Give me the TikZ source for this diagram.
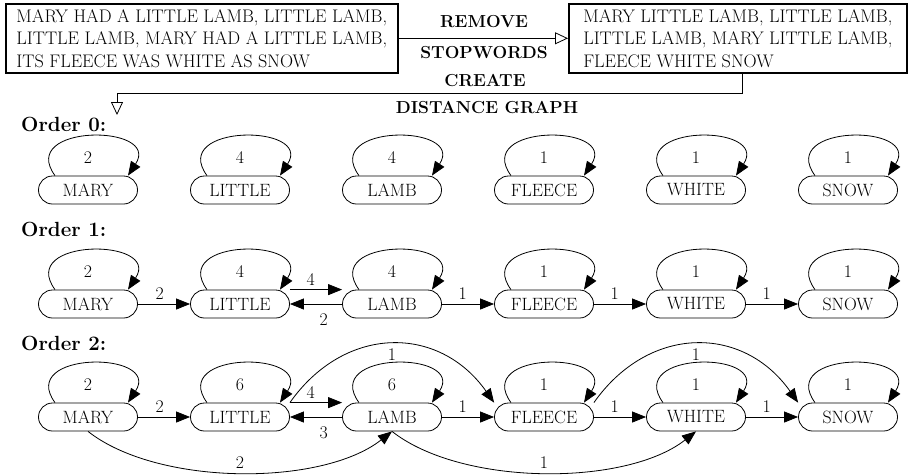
\documentclass[tikz,border=0pt]{standalone}
\usepackage{fontspec}
\usetikzlibrary{arrows.meta}
\newcommand\wordfont{\fontsize{17.8}{20}\selectfont}
\newcommand\boxfont{\fontsize{18.2}{22.5}\selectfont}
\newcommand\lblfont{\fontsize{17.4}{20}\selectfont\bfseries}
\newcommand\ordfont{\fontsize{20.5}{22}\selectfont\bfseries}
\begin{document}
\begin{tikzpicture}[x=1pt,y=1pt,
  word/.style={draw, line width=0.8pt, rounded corners=14pt, minimum width=99pt, minimum height=28pt, inner sep=0pt, font=\wordfont},
  txtbox/.style={draw, line width=1.6pt, align=left, inner sep=0pt, minimum height=69pt, font=\boxfont, anchor=north west},
  arr/.style={line width=0.8pt, -{Triangle[length=14pt,width=11pt]}},
  openarr/.style={line width=0.8pt, -{Triangle[open,length=13pt,width=12pt]}},
  num/.style={font=\wordfont, inner sep=4pt},
  steplbl/.style={font=\lblfont, inner sep=0pt},
  ord/.style={font=\ordfont, inner sep=0pt, anchor=west}]
\useasboundingbox (0,0) rectangle (911,-475);

% text boxes
\node[txtbox, minimum width=392pt] (src) at (5,-3)
  {MARY HAD A LITTLE LAMB, LITTLE LAMB,\\LITTLE LAMB, MARY HAD A LITTLE LAMB,\\ITS FLEECE WAS WHITE AS SNOW};
\node[txtbox, minimum width=338pt] (dst) at (568,-3)
  {MARY LITTLE LAMB, LITTLE LAMB,\\LITTLE LAMB, MARY LITTLE LAMB,\\FLEECE WHITE SNOW};
\draw[openarr] (src.east) -- (dst.west);
\node[steplbl] (l1) at (484,-21.5) {REMOVE};
\node[steplbl] (l2) at (484,-53) {STOPWORDS};
\coordinate (dgtip) at (117,-115);
\draw[openarr] ([xshift=5pt]dst.south) -- ++(0,-20) -| (dgtip);
\node[steplbl] (l3) at (485,-80.5) {CREATE};
\node[steplbl] (l4) at (487,-107.5) {DISTANCE GRAPH};

% order headings
\node[ord] (o0) at (21,-124) {Order 0:};
\node[ord] (o1) at (21,-229) {Order 1:};
\node[ord] (o2) at (21,-343) {Order 2:};

% word nodes and self loops
\foreach \r/\y/\c in {0/190/4,1/304/4,2/417/6}{
  \foreach \i/\w/\x/\k in {1/MARY/88/2, 2/LITTLE/240/\c, 3/LAMB/392/\c, 4/FLEECE/544/1, 5/WHITE/696/1, 6/SNOW/848/1}{
    \node[word] (n\r\i) at (\x,-\y) {\w};
    \draw[arr] ([xshift=-33pt]n\r\i.north) .. controls +(-38,52) and +(34,52) .. ([xshift=40pt]n\r\i.north);
    \node[num] (k\r\i) at ([yshift=18pt]n\r\i.north) {\k};
  }
}

% order 1 edges
\draw[arr] (n11) -- node[num, above, pos=.42] (e11) {2} (n12);
\draw[arr] (n12.north east) -- node[num, above, pos=.4] (e12) {4} (n13.north west);
\draw[arr] (n13) -- node[num, below=5pt, pos=.35] (e13) {2} (n12);
\draw[arr] (n13) -- node[num, above, pos=.4] (e14) {1} (n14);
\draw[arr] (n14) -- node[num, above, pos=.4] (e15) {1} (n15);
\draw[arr] (n15) -- node[num, above, pos=.4] (e16) {1} (n16);

% order 2 edges
\draw[arr] (n21) -- node[num, above, pos=.42] (f11) {2} (n22);
\draw[arr] (n22.north east) -- node[num, above, pos=.4] (f12) {4} (n23.north west);
\draw[arr] (n23) -- node[num, below=5pt, pos=.35] (f13) {3} (n22);
\draw[arr] (n23) -- node[num, above, pos=.4] (f14) {1} (n24);
\draw[arr] (n24) -- node[num, above, pos=.4] (f15) {1} (n25);
\draw[arr] (n25) -- node[num, above, pos=.4] (f16) {1} (n26);
\draw[arr] (n22.north east) .. controls +(55,78) and +(-55,78) .. node[num, below, pos=.5] (g1) {1} (n24.north west);
\draw[arr] (n24.north east) .. controls +(55,78) and +(-55,78) .. node[num, below, pos=.5] (g2) {1} (n26.north west);
\draw[arr] (n21.south) .. controls +(70,-55) and +(-70,-55) .. node[num, above, pos=.5] (g3) {2} (n23.south);
\draw[arr] (n23.south) .. controls +(70,-55) and +(-70,-55) .. node[num, above, pos=.5] (g4) {1} (n25.south);
\end{tikzpicture}
\end{document}
